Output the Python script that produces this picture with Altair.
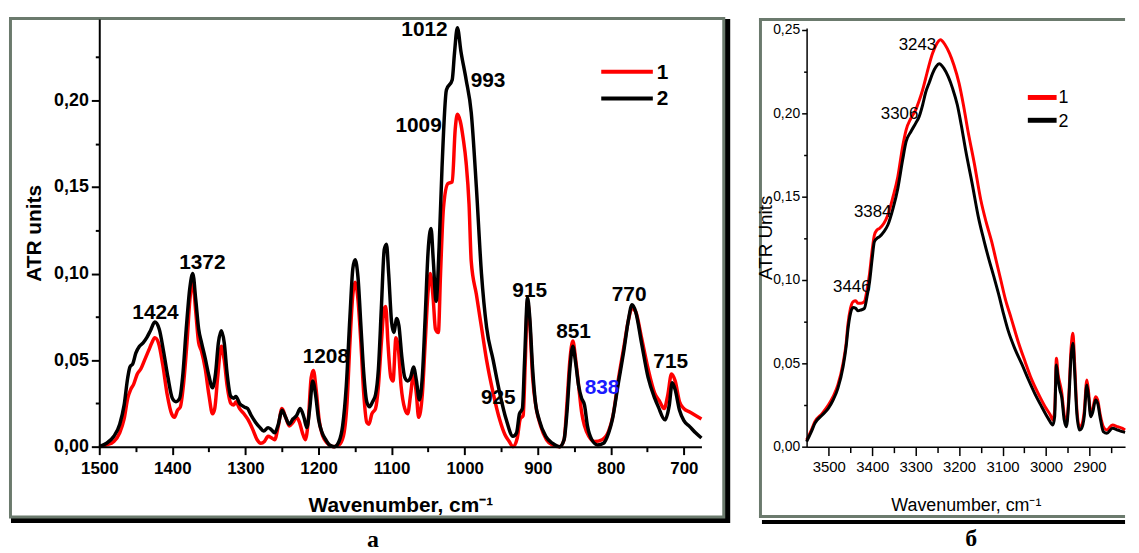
import altair as alt
import pandas as pd

# ---------------- Panel a (fingerprint region) ----------------
a_wn_1 = [1500, 1490, 1480, 1472, 1466, 1461, 1457, 1453, 1448, 1443, 1438, 1432, 1428, 1424, 1419, 1413,
          1407, 1401, 1397, 1393, 1389, 1385, 1380, 1376, 1372, 1368, 1364, 1360, 1355, 1350, 1345, 1342,
          1338, 1333, 1329, 1325, 1320, 1316, 1313, 1308, 1302, 1297, 1290, 1284, 1279, 1274, 1269, 1264,
          1260, 1255, 1250, 1245, 1240, 1235, 1230, 1226, 1222, 1218, 1214, 1210, 1207, 1203, 1199, 1194,
          1188, 1180, 1172, 1166, 1161, 1157, 1153, 1150, 1146, 1142, 1138, 1134, 1131, 1127, 1122, 1118,
          1114, 1110, 1108, 1105, 1101, 1098, 1094, 1091, 1087, 1082, 1078, 1074, 1070, 1066, 1063, 1058,
          1054, 1050, 1047, 1043, 1040, 1036, 1033, 1029, 1023, 1017, 1013, 1010, 1006, 1002, 998, 994,
          991, 984, 977, 970, 961, 952, 945, 939, 934, 928, 924, 920, 917, 914, 911, 907, 902, 896, 888,
          880, 870, 864, 860, 856, 852, 848, 844, 840, 836, 830, 822, 812, 803, 797, 790, 782, 776, 771,
          766, 758, 749, 740, 733, 727, 722, 717, 712, 706, 700, 692, 684, 676]
a_val_1 = [0.000, 0.001, 0.003, 0.008, 0.016, 0.028, 0.033, 0.036, 0.042, 0.045, 0.050, 0.056, 0.060, 0.063,
           0.060, 0.047, 0.030, 0.019, 0.017, 0.021, 0.023, 0.035, 0.060, 0.085, 0.095, 0.078, 0.060, 0.055,
           0.045, 0.030, 0.019, 0.022, 0.040, 0.058, 0.050, 0.035, 0.025, 0.024, 0.026, 0.022, 0.019, 0.016,
           0.010, 0.004, 0.002, 0.003, 0.006, 0.005, 0.004, 0.012, 0.022, 0.017, 0.012, 0.014, 0.017, 0.014,
           0.008, 0.004, 0.015, 0.040, 0.044, 0.032, 0.015, 0.006, 0.002, 0.000, 0.001, 0.006, 0.025, 0.060,
           0.088, 0.095, 0.085, 0.060, 0.030, 0.014, 0.013, 0.019, 0.022, 0.035, 0.060, 0.080, 0.081, 0.060,
           0.040, 0.038, 0.063, 0.058, 0.035, 0.022, 0.019, 0.030, 0.042, 0.030, 0.017, 0.030, 0.060, 0.090,
           0.100, 0.085, 0.068, 0.066, 0.100, 0.138, 0.152, 0.153, 0.183, 0.192, 0.188, 0.178, 0.164, 0.140,
           0.107, 0.088, 0.069, 0.050, 0.031, 0.0155, 0.007, 0.003, 0.000, 0.005, 0.016, 0.018, 0.050, 0.084,
           0.072, 0.040, 0.022, 0.012, 0.004, 0.001, 0.000, 0.004, 0.025, 0.050, 0.061, 0.050, 0.035, 0.020,
           0.012, 0.006, 0.003, 0.004, 0.009, 0.018, 0.038, 0.058, 0.073, 0.080, 0.078, 0.063, 0.045, 0.031,
           0.026, 0.022, 0.030, 0.042, 0.038, 0.026, 0.022, 0.020, 0.018, 0.016]

a_wn_2 = [1500, 1490, 1480, 1472, 1466, 1461, 1458, 1454, 1450, 1445, 1440, 1435, 1430, 1424, 1418, 1412,
          1406, 1400, 1395, 1390, 1386, 1381, 1376, 1372, 1368, 1364, 1360, 1355, 1350, 1345, 1341, 1337,
          1333, 1329, 1325, 1320, 1316, 1313, 1308, 1302, 1297, 1292, 1286, 1280, 1275, 1269, 1265, 1260,
          1255, 1250, 1245, 1240, 1235, 1230, 1225, 1220, 1216, 1212, 1208, 1204, 1200, 1195, 1190, 1185,
          1178, 1172, 1167, 1162, 1157, 1153, 1150, 1146, 1142, 1138, 1134, 1130, 1126, 1122, 1118, 1114,
          1110, 1107, 1104, 1100, 1097, 1093, 1090, 1086, 1082, 1078, 1074, 1070, 1066, 1062, 1058, 1054,
          1050, 1046, 1043, 1039, 1035, 1031, 1025, 1017, 1014, 1010, 1005, 998, 991, 984, 977, 970, 961,
          952, 943, 934, 929, 925, 921, 918, 914, 911, 907, 903, 898, 889, 880, 870, 864, 860, 856, 852,
          848, 844, 840, 836, 832, 826, 818, 810, 803, 798, 790, 782, 776, 771, 766, 758, 749, 740, 735,
          726, 720, 716, 712, 706, 700, 692, 684, 676]
a_val_2 = [0.000, 0.002, 0.006, 0.013, 0.024, 0.040, 0.046, 0.048, 0.054, 0.058, 0.060, 0.063, 0.067, 0.072,
           0.068, 0.055, 0.040, 0.028, 0.026, 0.028, 0.040, 0.068, 0.092, 0.100, 0.085, 0.068, 0.060, 0.051,
           0.041, 0.034, 0.042, 0.060, 0.067, 0.060, 0.042, 0.029, 0.028, 0.029, 0.025, 0.023, 0.022, 0.018,
           0.014, 0.011, 0.009, 0.011, 0.010, 0.008, 0.013, 0.021, 0.017, 0.013, 0.016, 0.018, 0.022, 0.017,
           0.011, 0.022, 0.038, 0.030, 0.016, 0.008, 0.004, 0.001, 0.000, 0.003, 0.012, 0.035, 0.075, 0.103,
           0.108, 0.098, 0.070, 0.042, 0.026, 0.023, 0.026, 0.030, 0.045, 0.080, 0.114, 0.117, 0.100, 0.072,
           0.066, 0.074, 0.070, 0.052, 0.040, 0.038, 0.040, 0.046, 0.038, 0.027, 0.040, 0.075, 0.113, 0.126,
           0.108, 0.084, 0.115, 0.161, 0.206, 0.212, 0.227, 0.242, 0.228, 0.212, 0.193, 0.150, 0.100, 0.069,
           0.050, 0.031, 0.0155, 0.006, 0.008, 0.019, 0.022, 0.050, 0.086, 0.075, 0.045, 0.025, 0.0155, 0.006,
           0.002, 0.000, 0.004, 0.020, 0.045, 0.058, 0.048, 0.035, 0.028, 0.024, 0.012, 0.004, 0.001, 0.002,
           0.008, 0.0155, 0.036, 0.056, 0.073, 0.082, 0.078, 0.060, 0.040, 0.028, 0.023, 0.0155, 0.024, 0.037,
           0.033, 0.021, 0.015, 0.0116, 0.008, 0.005]

a_peak_text = ["1012", "993", "1009", "1424", "1372", "1208", "925", "915", "851", "838", "770", "715"]
a_peak_wn = [1055, 968, 1063, 1423, 1359, 1190, 954, 911, 851, 812, 775, 718]
a_peak_val = [0.2407, 0.2115, 0.1851, 0.0774, 0.1060, 0.0516, 0.0281, 0.0900, 0.0665, 0.0338, 0.0877, 0.0487]
a_peak_color = ["#000000"] * 9 + ["#1a1aff"] + ["#000000"] * 2

# ---------------- Panel b (OH / CH stretching region) ----------------
b_wn_1 = [3551, 3540, 3532, 3515, 3501, 3490, 3479, 3467, 3460, 3456, 3450, 3444, 3438, 3433, 3426, 3418,
          3412, 3406, 3400, 3395, 3389, 3383, 3373, 3364, 3352, 3341, 3330, 3322, 3311, 3300, 3292, 3284,
          3277, 3268, 3261, 3253, 3243, 3232, 3222, 3212, 3200, 3190, 3180, 3165, 3150, 3138, 3125, 3115,
          3104, 3094, 3080, 3064, 3048, 3034, 3018, 3002, 2990, 2984, 2980, 2976, 2972, 2968, 2964, 2958,
          2953, 2948, 2942, 2938, 2934, 2929, 2923, 2918, 2912, 2906, 2902, 2897, 2892, 2886, 2881, 2875,
          2868, 2860, 2847, 2835, 2824, 2818]
b_val_1 = [0.004, 0.010, 0.015, 0.020, 0.025, 0.030, 0.037, 0.050, 0.062, 0.073, 0.083, 0.087, 0.0875, 0.086,
           0.086, 0.087, 0.094, 0.104, 0.118, 0.127, 0.130, 0.131, 0.134, 0.139, 0.150, 0.162, 0.180, 0.190,
           0.197, 0.202, 0.2075, 0.214, 0.221, 0.230, 0.236, 0.241, 0.2442, 0.241, 0.236, 0.229, 0.218, 0.205,
           0.190, 0.170, 0.148, 0.135, 0.123, 0.112, 0.100, 0.089, 0.077, 0.063, 0.051, 0.041, 0.032, 0.024,
           0.019, 0.016, 0.022, 0.053, 0.043, 0.038, 0.033, 0.019, 0.014, 0.028, 0.060, 0.068, 0.050, 0.023,
           0.012, 0.013, 0.021, 0.040, 0.033, 0.020, 0.023, 0.030, 0.028, 0.019, 0.012, 0.010, 0.013, 0.012,
           0.011, 0.010]

b_wn_2 = [3551, 3540, 3532, 3515, 3501, 3490, 3479, 3467, 3460, 3456, 3450, 3444, 3438, 3433, 3426, 3418,
          3412, 3406, 3400, 3395, 3389, 3383, 3373, 3364, 3352, 3341, 3330, 3322, 3311, 3300, 3292, 3284,
          3277, 3268, 3261, 3253, 3246, 3235, 3225, 3215, 3204, 3195, 3185, 3170, 3155, 3143, 3132, 3120,
          3109, 3098, 3087, 3072, 3056, 3040, 3026, 3010, 2995, 2984, 2980, 2976, 2972, 2968, 2964, 2958,
          2953, 2948, 2942, 2938, 2934, 2929, 2923, 2918, 2912, 2906, 2902, 2897, 2892, 2886, 2881, 2875,
          2868, 2860, 2847, 2835, 2824, 2818]
b_val_2 = [0.003, 0.009, 0.014, 0.019, 0.023, 0.028, 0.035, 0.048, 0.060, 0.070, 0.080, 0.0835, 0.083, 0.0815,
           0.082, 0.083, 0.090, 0.099, 0.113, 0.123, 0.125, 0.126, 0.129, 0.133, 0.143, 0.155, 0.172, 0.183,
           0.189, 0.194, 0.198, 0.205, 0.2125, 0.219, 0.224, 0.228, 0.2298, 0.227, 0.222, 0.215, 0.205, 0.193,
           0.178, 0.158, 0.137, 0.124, 0.113, 0.102, 0.0915, 0.080, 0.0696, 0.059, 0.0498, 0.040, 0.032, 0.024,
           0.017, 0.013, 0.018, 0.049, 0.040, 0.034, 0.030, 0.016, 0.012, 0.025, 0.055, 0.062, 0.045, 0.020,
           0.010, 0.011, 0.018, 0.037, 0.030, 0.018, 0.021, 0.028, 0.026, 0.017, 0.009, 0.008, 0.011, 0.010,
           0.009, 0.0085]

b_peak_text = ["3243", "3306", "3384", "3446"]
b_peak_wn = [3296, 3337, 3399, 3447]
b_peak_val = [0.2411, 0.1994, 0.1405, 0.0958]

series_names = ["1", "2"]
series_colors = ["#ff0000", "#000000"]

a_x_ticks = list(range(1500, 675, -50))
a_y_ticks = [0.0, 0.025, 0.05, 0.075, 0.1, 0.125, 0.15, 0.175, 0.2, 0.225]
b_x_ticks = list(range(3500, 2817, -50))
b_y_ticks = [0.0, 0.025, 0.05, 0.075, 0.1, 0.125, 0.15, 0.175, 0.2, 0.225, 0.25]

FRAME = "#6b7a6d"
SANS = "Liberation Sans, Arial, sans-serif"
NARROW = "Liberation Sans Narrow, Arial Narrow, Liberation Sans, sans-serif"

one = pd.DataFrame({"k": [0]})

df_a = pd.concat([
    pd.DataFrame({"wn": a_wn_1, "val": a_val_1, "series": "1"}),
    pd.DataFrame({"wn": a_wn_2, "val": a_val_2, "series": "2"}),
])
df_b = pd.concat([
    pd.DataFrame({"wn": b_wn_1, "val": b_val_1, "series": "1"}),
    pd.DataFrame({"wn": b_wn_2, "val": b_val_2, "series": "2"}),
])
lab_a = pd.DataFrame({"wn": a_peak_wn, "val": a_peak_val, "txt": a_peak_text, "col": a_peak_color})
lab_b = pd.DataFrame({"wn": b_peak_wn, "val": b_peak_val, "txt": b_peak_text})

LABEL_X = "datum.value % 100 == 0 ? format(datum.value, 'd') : ''"
LABEL_Y = "round(datum.value * 1000) % 50 == 0 ? replace(format(datum.value, '.2f'), '.', ',') : ''"
MAJ_X = "datum.value % 100 == 0"
MAJ_Y = "round(datum.value * 1000) % 50 == 0"

color_enc = alt.Color("series:N", scale=alt.Scale(domain=series_names, range=series_colors), legend=None)

# ---------- panel a ----------
AW, AH = 607, 431
xa = alt.X("wn:Q", scale=alt.Scale(domain=[676, 1500], reverse=True, nice=False, zero=False),
           axis=alt.Axis(values=a_x_ticks, labelExpr=LABEL_X, title="Wavenumber, cm⁻¹",
                         tickSize={"condition": {"test": MAJ_X, "value": 8}, "value": 5},
                         tickWidth=2, tickColor="black", domainColor="black", domainWidth=2,
                         labelFont=SANS, labelFontSize=17, labelFontWeight="bold", labelColor="black",
                         labelPadding=6, labelFlush=False, labelOverlap=False,
                         titleFont=SANS, titleFontSize=21, titleFontWeight="bold", titleColor="black",
                         titlePadding=18, grid=False, zindex=1))
ya = alt.Y("val:Q", scale=alt.Scale(domain=[0, 0.247], nice=False, zero=False),
           axis=alt.Axis(values=a_y_ticks, labelExpr=LABEL_Y, title="ATR units",
                         tickSize={"condition": {"test": MAJ_Y, "value": 8}, "value": 4},
                         tickWidth=2, tickColor="black", domainColor="black", domainWidth=2,
                         labelFont=SANS, labelFontSize=18, labelFontWeight="bold", labelColor="black",
                         labelPadding=3, labelFlush=False, labelOverlap=False,
                         titleFont=SANS, titleFontSize=21, titleFontWeight="bold", titleColor="black",
                         titlePadding=9, grid=False, zindex=1))

a_shadow = alt.Chart(one).mark_rect(color="black").encode(
    x=alt.value(-89), x2=alt.value(636), y=alt.value(0), y2=alt.value(508))
a_frame = alt.Chart(one).mark_rect(fill="white", stroke=FRAME, strokeWidth=3).encode(
    x=alt.value(-89.5), x2=alt.value(629.5), y=alt.value(-0.5), y2=alt.value(502))
a_lines = alt.Chart(df_a).mark_line(strokeWidth=3.5, interpolate="monotone").encode(
    x=xa, y=ya, color=color_enc, order=alt.Order("series:N"))
a_text = alt.Chart(lab_a).mark_text(font=SANS, fontSize=21, fontWeight="bold", align="center",
                                    baseline="middle").encode(
    x=xa, y=ya, text="txt:N", color=alt.Color("col:N", scale=None))
a_leg_r = alt.Chart(one).mark_rule(color="#ff0000", strokeWidth=4).encode(
    x=alt.value(506), x2=alt.value(558), y=alt.value(53))
a_leg_k = alt.Chart(one).mark_rule(color="#000000", strokeWidth=4).encode(
    x=alt.value(506), x2=alt.value(558), y=alt.value(80))
a_leg_t1 = alt.Chart(one).mark_text(text="1", font=SANS, fontSize=21, fontWeight="bold", align="left",
                                    baseline="middle", color="black").encode(x=alt.value(562), y=alt.value(54))
a_leg_t2 = alt.Chart(one).mark_text(text="2", font=SANS, fontSize=21, fontWeight="bold", align="left",
                                    baseline="middle", color="black").encode(x=alt.value(562), y=alt.value(81))
a_letter = alt.Chart(one).mark_text(text="a", font="Liberation Serif", fontSize=24, fontWeight="bold",
                                    align="center", baseline="middle", color="black").encode(
    x=alt.value(276), y=alt.value(525))

panel_a = alt.layer(a_shadow, a_frame, a_lines, a_text, a_leg_r, a_leg_k, a_leg_t1, a_leg_t2,
                    a_letter).properties(width=AW, height=AH)

# ---------- panel b ----------
# same view height as panel a so both plot origins line up; the y range starts 9 px lower
BW, BH = 321, 431
xb = alt.X("wn:Q", scale=alt.Scale(domain=[2818, 3551], reverse=True, nice=False, zero=False),
           axis=alt.Axis(values=b_x_ticks, labelExpr=LABEL_X, title="Wavenumber, cm⁻¹",
                         tickSize={"condition": {"test": MAJ_X, "value": 9}, "value": 6},
                         tickWidth=1.5, tickColor="black", domainColor="black", domainWidth=1.5,
                         labelFont=NARROW, labelFontSize=15, labelColor="black", labelPadding=4,
                         labelFlush=False, labelOverlap=False,
                         titleFont=NARROW, titleFontSize=18, titleFontWeight="normal", titleColor="black",
                         titlePadding=22, grid=False, zindex=1))
yb = alt.Y("val:Q", scale=alt.Scale(domain=[0, 0.2512], range=[431, 9], nice=False, zero=False),
           axis=alt.Axis(values=b_y_ticks, labelExpr=LABEL_Y, title="ATR Units",
                         tickSize={"condition": {"test": MAJ_Y, "value": 5}, "value": 3},
                         tickWidth=1.5, tickColor="black", domainColor="black", domainWidth=1.5,
                         labelFont=NARROW, labelFontSize=14, labelColor="black", labelPadding=2,
                         labelFlush=False, labelOverlap=False,
                         titleFont=SANS, titleFontSize=19, titleFontWeight="normal", titleColor="black",
                         titlePadding=-3, grid=False, zindex=1))

b_shadow = alt.Chart(one).mark_rect(color="black").encode(
    x=alt.value(-45), x2=alt.value(BW), y=alt.value(505), y2=alt.value(509))
b_frame_l = alt.Chart(one).mark_rule(color=FRAME, strokeWidth=3).encode(
    x=alt.value(-46.5), y=alt.value(-1), y2=alt.value(503))
b_frame_t = alt.Chart(one).mark_rule(color=FRAME, strokeWidth=3).encode(
    x=alt.value(-48), x2=alt.value(BW), y=alt.value(0.5))
b_frame_b = alt.Chart(one).mark_rule(color=FRAME, strokeWidth=3).encode(
    x=alt.value(-48), x2=alt.value(BW), y=alt.value(501.5))
b_lines = alt.Chart(df_b).mark_line(strokeWidth=3, interpolate="monotone").encode(
    x=xb, y=yb, color=color_enc, order=alt.Order("series:N"))
b_text = alt.Chart(lab_b).mark_text(font=NARROW, fontSize=17, align="center", baseline="middle",
                                    color="black").encode(x=xb, y=yb, text="txt:N")
b_leg_r = alt.Chart(one).mark_rule(color="#ff0000", strokeWidth=5).encode(
    x=alt.value(223), x2=alt.value(252), y=alt.value(79))
b_leg_k = alt.Chart(one).mark_rule(color="#000000", strokeWidth=5).encode(
    x=alt.value(223), x2=alt.value(252), y=alt.value(102))
b_leg_t1 = alt.Chart(one).mark_text(text="1", font=NARROW, fontSize=18, align="left",
                                    baseline="middle", color="black").encode(x=alt.value(254), y=alt.value(80))
b_leg_t2 = alt.Chart(one).mark_text(text="2", font=NARROW, fontSize=18, align="left",
                                    baseline="middle", color="black").encode(x=alt.value(254), y=alt.value(104))
b_letter = alt.Chart(one).mark_text(text="б", font="Liberation Serif", fontSize=24, fontWeight="bold",
                                    align="center", baseline="middle", color="black").encode(
    x=alt.value(166), y=alt.value(524))

panel_b = alt.layer(b_shadow, b_frame_l, b_frame_t, b_frame_b, b_lines, b_text, b_leg_r, b_leg_k,
                    b_leg_t1, b_leg_t2, b_letter).properties(width=BW, height=BH)

chart = alt.hconcat(panel_a, panel_b, spacing=26).configure(
    padding={"left": 1, "top": 6, "right": 0, "bottom": 0}
).configure_view(stroke=None)

chart.save("out.html", embed_options={"renderer": "svg", "actions": False})
